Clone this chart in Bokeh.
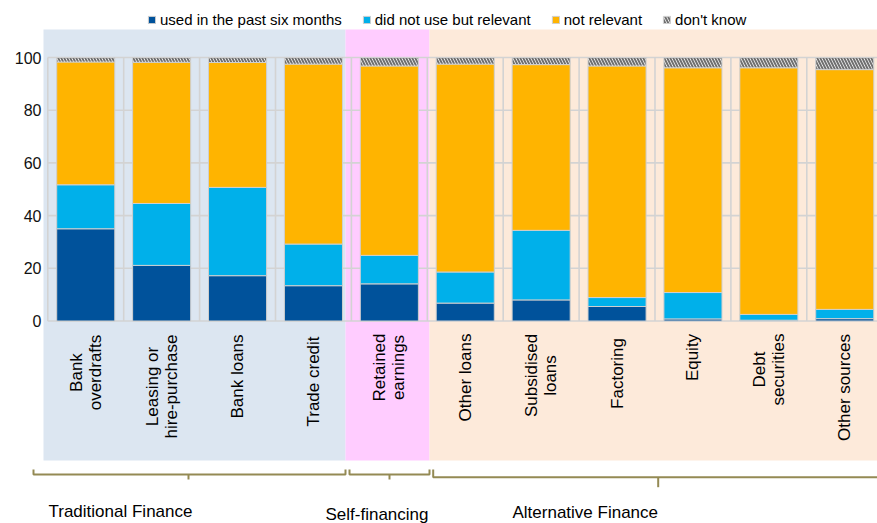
import numpy as np
from bokeh.plotting import figure
from bokeh.models import Range1d, LinearAxis, FixedTicker, ColumnDataSource
from bokeh.core.properties import value
from bokeh.embed import file_html
from bokeh.resources import INLINE

# ---------------- data ----------------
categories = ["Bank\noverdrafts", "Leasing or\nhire-purchase", "Bank loans", "Trade credit",
              "Retained\nearnings", "Other loans", "Subsidised\nloans", "Factoring", "Equity",
              "Debt\nsecurities", "Other sources"]
used = [35.0, 21.1, 17.2, 13.4, 14.1, 6.8, 8.0, 5.5, 0.8, 0.3, 0.9]
relevant = [16.7, 23.5, 33.5, 15.8, 10.8, 11.8, 26.4, 3.4, 10.0, 2.2, 3.5]
not_relevant = [46.6, 53.6, 47.4, 68.3, 71.9, 78.9, 62.9, 87.9, 85.3, 93.6, 91.0]
dont_know = [1.7, 1.8, 1.9, 2.5, 3.2, 2.5, 2.7, 3.2, 3.9, 3.9, 4.6]
series_names = ["used in the past six months", "did not use but relevant", "not relevant", "don't know"]
groups = ["Traditional Finance", "Self-financing", "Alternative Finance"]
y_ticks = [0, 20, 40, 60, 80, 100]

# ---------------- layout helpers (page pixels -> data) ----------------
X0, XS = 47.3, 75.9      # page x of category 0, px per category
Y0, YS = 320.5, 2.635    # page y of value 0, px per unit

def X(px):
    return (px - X0) / XS

def Y(py):
    return (Y0 - py) / YS

W, H = 877, 523
FRAME_LEFT = 30

p = figure(width=W, height=H, output_backend="svg", toolbar_location=None,
           x_range=Range1d(X(FRAME_LEFT), X(W)), y_range=Range1d(Y(H), Y(0)),
           x_axis_location=None, y_axis_location=None, title=None,
           min_border_left=FRAME_LEFT, min_border_right=0, min_border_top=0, min_border_bottom=0)
p.outline_line_color = None
p.xgrid.visible = False
p.ygrid.visible = False
p.background_fill_color = "white"

# y axis
yax = LinearAxis(ticker=FixedTicker(ticks=y_ticks))
yax.axis_line_color = None
yax.major_tick_line_color = None
yax.minor_tick_line_color = None
yax.major_label_text_font = "Liberation Sans"
yax.major_label_text_font_size = "16px"
yax.major_label_text_color = "#111111"
yax.major_label_standoff = -17
p.add_layout(yax, "left")

# background group shading
shade_left = [X(43), X(345), X(429)]
shade_right = [X(345), X(429), X(900)]
shade_colors = ["#DCE6F1", "#FFCCFF", "#FDEADA"]
p.quad(left=shade_left, right=shade_right, bottom=Y(460), top=Y(29),
       fill_color=shade_colors, line_color=None)

n = len(categories)
# gridlines
grid_col = "#D3D3D3"
p.segment(x0=[0] * len(y_ticks), x1=[n] * len(y_ticks), y0=y_ticks, y1=y_ticks,
          line_color=grid_col, line_width=1.6)
p.segment(x0=list(range(n + 1)), x1=list(range(n + 1)), y0=[0] * (n + 1), y1=[100] * (n + 1),
          line_color=grid_col, line_width=1.6)

# stacked bars
xs = np.arange(n) + 0.5
vals = [np.array(used), np.array(relevant), np.array(not_relevant), np.array(dont_know)]
colors = ["#00529B", "#00B0EA", "#FFB400", "white"]
bottom = np.zeros(n)
for i, (v, c, name) in enumerate(zip(vals, colors, series_names)):
    src = ColumnDataSource(dict(x=xs, bottom=bottom, top=bottom + v))
    kw = {}
    if i == 3:
        kw = dict(hatch_pattern="left_diagonal_line", hatch_color="#707070",
                  hatch_scale=6, hatch_weight=2)
    p.vbar(x="x", bottom="bottom", top="top", width=0.765, source=src,
           fill_color=c, line_color="#CFCFCF", line_width=1, legend_label=name, **kw)
    bottom = bottom + v

# category labels (rotated)
label_center_py = [372, 386, 376, 381, 367, 377, 375, 373, 357, 369, 387]
p.text(x=xs, y=[Y(v) for v in label_center_py], text=categories, angle=np.pi / 2,
       text_align="center", text_baseline="middle", text_font=value("Liberation Sans"),
       text_font_size="17px", text_color="#000000", text_line_height=1.0)

# group brackets
br_col = "#948A54"
br = [
    (33, 345, 188, 469, 474, 479),
    (349, 429, 389, 469, 474, 479),
    (432.7, 900, 657.7, 469, 476.7, 486.7),
]
xs_l, ys_l = [], []
for l, r, c, ytop, yh, ytick in br:
    xs_l.append([X(l), X(l), X(r), X(r)])
    ys_l.append([Y(ytop), Y(yh), Y(yh), Y(ytop)])
    xs_l.append([X(c), X(c)])
    ys_l.append([Y(yh), Y(ytick)])
p.multi_line(xs=xs_l, ys=ys_l, line_color=br_col, line_width=2)

# group labels
p.text(x=[X(48), X(325), X(512)], y=[Y(511), Y(514), Y(512)], text=groups,
       text_align="left", text_baseline="middle", text_font=value("Liberation Sans"),
       text_font_size="17px", text_color="#000000")

# legend
lg = p.legend[0]
lg.orientation = "horizontal"
lg.location = (117, 495)
lg.glyph_width = 9
lg.glyph_height = 9
lg.label_standoff = 4
lg.spacing = 20
lg.padding = 0
lg.margin = 0
lg.border_line_color = None
lg.background_fill_alpha = 0
lg.label_text_font = "Liberation Sans"
lg.label_text_font_size = "15px"
lg.label_text_color = "#000000"

open("out.html", "w").write(file_html(p, INLINE))
